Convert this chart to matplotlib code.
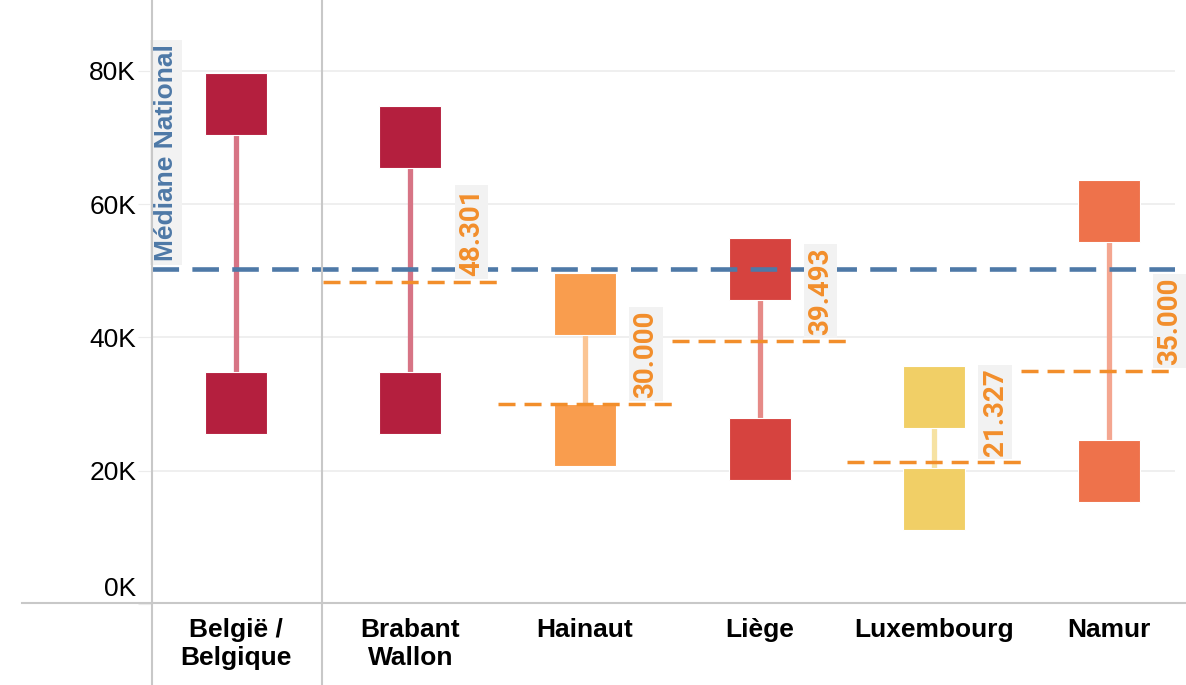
import matplotlib.pyplot as plt
import matplotlib.transforms as mtransforms
from matplotlib.lines import Line2D

plt.rcParams['font.family'] = ['Liberation Sans', 'DejaVu Sans']

# data (thousands)
regions = ['België /\nBelgique', 'Brabant\nWallon', 'Hainaut', 'Liège', 'Luxembourg', 'Namur']
high = [75.0, 70.1, 45.0, 50.2, 31.0, 58.9]
low = [30.1, 30.1, 25.3, 23.2, 15.7, 20.0]
medians = [None, 48.301, 30.000, 39.493, 21.327, 35.000]
median_labels = [None, '48.301', '30.000', '39.493', '21.327', '35.000']
national = 50.2
yticks = [0, 20, 40, 60, 80]

colors = ['#b41f3e', '#b41f3e', '#f99d4e', '#d6433f', '#f1cf66', '#ee724b']
line_colors = ['#d77485', '#d77485', '#fbc594', '#e68a87', '#f6e2a3', '#f4a690']
orange = '#f28e2b'
blue = '#4e79a7'

fig = plt.figure(figsize=(11.86, 6.85), dpi=100)
ax = fig.add_axes([152/1186, 1 - 604/685, 1023/1186, 604/685])
ax.set_xlim(-0.48, 5.38)
ax.set_ylim(0, 90.6)

for y in yticks[1:]:
    ax.axhline(y, color='#ececec', lw=1.2, zorder=0)

xs = range(len(regions))
for i in xs:
    ax.plot([i, i], [low[i], high[i]], color=line_colors[i], lw=3.8, zorder=2,
            solid_capstyle='butt')
    ax.plot([i, i], [low[i], high[i]], 's', color=colors[i], ms=44, mew=0.8,
            mec='white', zorder=3)

# national median
ax.axhline(national, color=blue, lw=3.3, dashes=(5.8, 2.9), zorder=4)
ax.text(-0.40, national + 1.2, 'Médiane National', rotation=90, color=blue,
        fontsize=19, fontweight='bold', ha='center', va='bottom', zorder=5,
        bbox=dict(boxstyle='square,pad=0.15', fc='#f2f2f2', ec='none'))

for i in xs:
    if medians[i] is None:
        continue
    ax.plot([i - 0.5, i + 0.5], [medians[i], medians[i]], color=orange, lw=2.5,
            dashes=(4.9, 2.6), zorder=4)
    ax.text(i + 0.35, medians[i] + 0.9, median_labels[i], rotation=90, color=orange,
            fontsize=20, fontweight='bold', family=['Roboto', 'DejaVu Sans'],
            ha='center', va='bottom', zorder=5,
            bbox=dict(boxstyle='square,pad=0.12', fc='#f2f2f2', ec='none'))

for s in ax.spines.values():
    s.set_visible(False)
ax.set_yticks(yticks)
ax.set_yticklabels([f'{v}K' for v in yticks], fontsize=19)
ax.tick_params(axis='y', length=10, color='#ececec', pad=1.5)
# lift the 0K label above the baseline like the original
lbl0 = ax.get_yticklabels()[0]
lbl0.set_transform(lbl0.get_transform() +
                   mtransforms.ScaledTranslation(0, 17/100, fig.dpi_scale_trans))
ax.tick_params(axis='x', length=0, pad=10)
ax.set_xticks(list(xs))
ax.set_xticklabels(regions, fontsize=19, fontweight='bold', va='top', linespacing=1.2)

# frame lines
gray = '#c8c8c8'
fig.add_artist(Line2D([22/1186, 1], [1 - 603/685] * 2, color=gray, lw=1.5))
fig.add_artist(Line2D([152/1186] * 2, [0, 1], color=gray, lw=1.5))
fig.add_artist(Line2D([322/1186] * 2, [0, 1], color=gray, lw=1.5))

fig.savefig('out.png', dpi=100)
